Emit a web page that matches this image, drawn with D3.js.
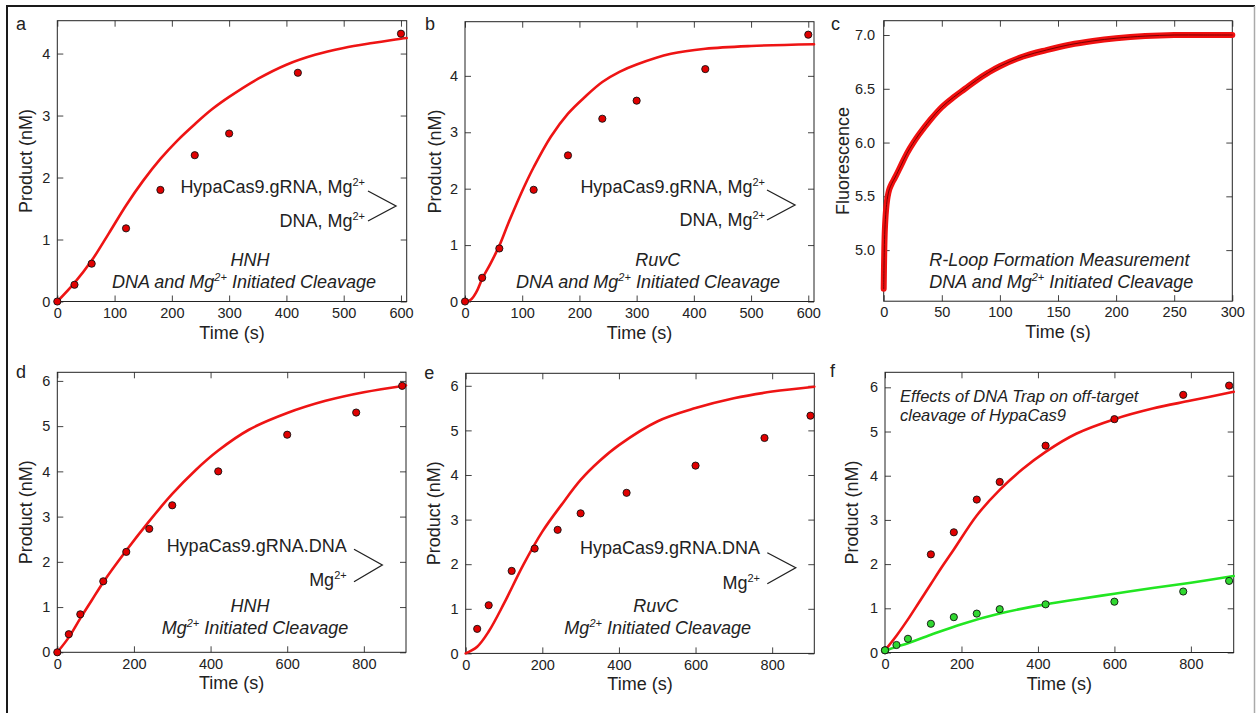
<!DOCTYPE html>
<html lang="en">
<head>
<meta charset="UTF-8">
<title>HypaCas9 cleavage kinetics</title>
<style>
  body { margin: 0; background: #fff; }
  svg { display: block; font-family: 'Liberation Sans', Arial, sans-serif; }
</style>
</head>
<body>
<svg id="svg" width="1257" height="713"></svg>
<script src="https://d3js.org/d3.v7.min.js"></script>
<script>
// ---- data ----
// a: HNH, DNA and Mg2+ initiated
const timesA = [0, 30, 60, 120, 180, 240, 300, 420, 600]
const productA = [0, 0.27, 0.61, 1.18, 1.80, 2.36, 2.71, 3.69, 4.32]
const fitTimesA = [0, 30, 60, 90, 120, 150, 180, 210, 240, 270, 300, 350, 400, 450, 500, 550, 600, 610]
const fitA = [0, 0.3, 0.66, 1.1, 1.55, 1.95, 2.3, 2.6, 2.86, 3.1, 3.3, 3.59, 3.82, 3.98, 4.09, 4.17, 4.24, 4.25]

// b: RuvC, DNA and Mg2+ initiated
const timesB = [0, 30, 60, 120, 180, 240, 300, 420, 600]
const productB = [0, 0.42, 0.94, 1.98, 2.59, 3.24, 3.56, 4.12, 4.73]
const fitTimesB = [0, 10, 20, 30, 45, 60, 75, 90, 105, 120, 150, 180, 210, 240, 270, 300, 360, 420, 500, 610]
const fitB = [0, 0.03, 0.17, 0.4, 0.68, 0.99, 1.37, 1.73, 2.07, 2.38, 2.92, 3.33, 3.63, 3.89, 4.07, 4.2, 4.39, 4.48, 4.53, 4.56]

// c: R-loop formation, fluorescence trace
const fluorTimes = [0, 0.5, 1, 2, 3, 4, 5, 7, 10, 15, 20, 25, 30, 40, 50, 60, 70, 80, 90, 100, 120, 140, 160, 180, 200, 225, 250, 275, 300]
const fluorValues = [4.64, 5.0, 5.19, 5.37, 5.47, 5.53, 5.57, 5.62, 5.68, 5.79, 5.9, 5.99, 6.07, 6.21, 6.33, 6.42, 6.5, 6.58, 6.65, 6.71, 6.8, 6.86, 6.91, 6.945, 6.97, 6.99, 7.0, 7.0, 7.0]

// d: HNH, Mg2+ initiated
const timesD = [0, 30, 60, 120, 180, 240, 300, 420, 600, 780, 900]
const productD = [0, 0.40, 0.84, 1.57, 2.22, 2.73, 3.25, 4.00, 4.81, 5.30, 5.89]
const fitTimesD = [0, 30, 60, 90, 120, 180, 240, 300, 360, 420, 500, 600, 700, 800, 910]
const fitD = [0, 0.33, 0.75, 1.15, 1.55, 2.25, 2.9, 3.5, 4.02, 4.46, 4.92, 5.29, 5.56, 5.75, 5.9]

// e: RuvC, Mg2+ initiated
const timesE = [30, 60, 120, 180, 240, 300, 420, 600, 780, 900]
const productE = [0.55, 1.08, 1.85, 2.35, 2.77, 3.14, 3.60, 4.21, 4.83, 5.33]
const fitTimesE = [0, 30, 60, 100, 150, 200, 250, 300, 350, 400, 500, 600, 700, 800, 910]
const fitE = [0, 0.15, 0.49, 1.12, 1.98, 2.73, 3.33, 3.89, 4.32, 4.67, 5.2, 5.5, 5.72, 5.87, 5.98]

// f: DNA trap, off-target cleavage
const timesF = [0, 120, 180, 240, 300, 420, 600, 780, 900]
const productFRed = [0.05, 2.22, 2.72, 3.46, 3.86, 4.68, 5.28, 5.83, 6.04]
const fitTimesFRed = [0, 30, 60, 90, 120, 150, 180, 240, 300, 360, 420, 500, 600, 700, 800, 912]
const fitFRed = [0.05, 0.38, 0.75, 1.15, 1.55, 1.95, 2.33, 3.1, 3.68, 4.15, 4.54, 4.95, 5.28, 5.52, 5.7, 5.9]
const timesFGreen = [0, 30, 60, 120, 180, 240, 300, 420, 600, 780, 900]
const productFGreen = [0.05, 0.17, 0.31, 0.65, 0.80, 0.88, 0.98, 1.09, 1.15, 1.38, 1.62]
const fitTimesFGreen = [0, 30, 60, 120, 200, 300, 400, 500, 600, 700, 800, 912]
const fitFGreen = [0.04, 0.13, 0.21, 0.4, 0.64, 0.88, 1.06, 1.2, 1.33, 1.46, 1.58, 1.73]

// tick labels
const xTicks600 = [0, 100, 200, 300, 400, 500, 600]
const xTicks300 = [0, 50, 100, 150, 200, 250, 300]
const xTicks900 = [0, 200, 400, 600, 800]
const yTicks4 = [0, 1, 2, 3, 4]
const yTicks6 = [0, 1, 2, 3, 4, 5, 6]
const yTicksFluor = [5.0, 5.5, 6.0, 6.5, 7.0]

// ---- helpers ----
const zip = (xs, ys) => xs.map((t, i) => ({ t: t, v: ys[i] }))
const RED = '#ee1414'
const GREEN = '#22e622'
const INK = '#222'

const svg = d3.select('#svg')

// outer figure border
svg.append('line').attr('x1', 6).attr('x2', 1255).attr('y1', 6).attr('y2', 6)
    .attr('stroke', '#1a1a1a').attr('stroke-width', 2)
svg.append('line').attr('x1', 7).attr('x2', 7).attr('y1', 5).attr('y2', 713)
    .attr('stroke', '#1a1a1a').attr('stroke-width', 2)
svg.append('line').attr('x1', 1254.5).attr('x2', 1254.5).attr('y1', 6).attr('y2', 713)
    .attr('stroke', '#aaa').attr('stroke-width', 1.5)

// text with superscripts: parts = [[text, isSup], ...]
function richText(sel, parts) {
    let up = false
    parts.forEach(([s, sup]) => {
        const ts = sel.append('tspan').text(s)
        if (sup && !up) { ts.attr('dy', -7).style('font-size', '11px'); up = true }
        else if (sup) { ts.style('font-size', '11px') }
        else if (up) { ts.attr('dy', 7); up = false }
    })
    return sel
}

function chevron(pts) {
    svg.append('path')
        .attr('d', d3.line()(pts))
        .attr('fill', 'none')
        .attr('stroke', INK)
        .attr('stroke-width', 1.3)
}

function drawPanel(p) {
    const g = svg.append('g')
    const x = d3.scaleLinear().domain(p.xDomain).range([p.left, p.right])
    const y = d3.scaleLinear().domain(p.yDomain).range([p.bottom, p.top])

    const styleAxis = sel => {
        sel.select('.domain').remove()
        sel.selectAll('.tick line').attr('stroke', '#444').attr('stroke-width', 1)
        sel.selectAll('.tick text').attr('fill', INK).style('font-size', '14.5px')
            .style('font-family', "'Liberation Sans', Arial, sans-serif")
    }

    g.append('g').attr('transform', `translate(0,${p.bottom})`)
        .call(d3.axisBottom(x).tickValues(p.xTicks).tickSize(-6).tickSizeOuter(0).tickPadding(6))
        .call(styleAxis)
    g.append('g').attr('transform', `translate(0,${p.top})`)
        .call(d3.axisTop(x).tickValues(p.xTicks).tickSize(-6).tickSizeOuter(0).tickFormat(''))
        .call(styleAxis)
    g.append('g').attr('transform', `translate(${p.left},0)`)
        .call(d3.axisLeft(y).tickValues(p.yTicks).tickSize(-6).tickSizeOuter(0).tickPadding(p.yPad)
            .tickFormat(p.yFormat))
        .call(styleAxis)
    g.append('g').attr('transform', `translate(${p.right},0)`)
        .call(d3.axisRight(y).tickValues(p.yTicks).tickSize(-6).tickSizeOuter(0).tickFormat(''))
        .call(styleAxis)

    // frame
    g.append('rect')
        .attr('x', p.left).attr('y', p.top)
        .attr('width', p.right - p.left).attr('height', p.bottom - p.top)
        .attr('fill', 'none').attr('stroke', INK).attr('stroke-width', 1)

    // titles
    g.append('text').text('Time (s)')
        .attr('x', (p.left + p.right) / 2).attr('y', p.bottom + 37)
        .attr('text-anchor', 'middle').style('font-size', '18px').attr('fill', INK)
    g.append('text').text(p.yTitle)
        .attr('transform', `translate(${p.left - p.yTitleOff},${(p.top + p.bottom) / 2}) rotate(-90)`)
        .attr('text-anchor', 'middle').style('font-size', '18px').attr('fill', INK)
    g.append('text').text(p.letter)
        .attr('x', p.letterPos[0]).attr('y', p.letterPos[1])
        .style('font-size', '18px').attr('fill', INK)

    // curves
    const line = d3.line().x(d => x(d.t)).y(d => y(d.v)).curve(d3.curveCatmullRom.alpha(0.5))
    ;(p.fits || []).forEach(f => {
        g.append('path').datum(f.data)
            .attr('d', line)
            .attr('fill', 'none')
            .attr('stroke', f.color)
            .attr('stroke-width', f.width || 2.6)
            .attr('stroke-linecap', 'round')
            .attr('stroke-linejoin', 'round')
    })

    // points
    ;(p.points || []).forEach(s => {
        g.selectAll(null).data(s.data).enter()
            .append('circle')
            .attr('cx', d => x(d.t))
            .attr('cy', d => y(d.v))
            .attr('r', 3.6)
            .attr('fill', s.color)
            .attr('stroke', '#111')
            .attr('stroke-width', 0.9)
    })
    return { x, y }
}

const intFmt = d3.format('d')
const panels = [
    {
        letter: 'a', letterPos: [16, 30],
        left: 57.3, right: 406.7, top: 20.7, bottom: 301.5,
        xDomain: [0, 610], yDomain: [0, 4.53], xTicks: xTicks600, yTicks: yTicks4,
        yFormat: intFmt, yPad: 7, yTitle: 'Product (nM)', yTitleOff: 25,
        fits: [{ data: zip(fitTimesA, fitA), color: RED }],
        points: [{ data: zip(timesA, productA), color: '#e00000' }]
    },
    {
        letter: 'b', letterPos: [425, 30],
        left: 465, right: 814, top: 21.7, bottom: 301.5,
        xDomain: [0, 610], yDomain: [0, 4.96], xTicks: xTicks600, yTicks: yTicks4,
        yFormat: intFmt, yPad: 7, yTitle: 'Product (nM)', yTitleOff: 24.5,
        fits: [{ data: zip(fitTimesB, fitB), color: RED }],
        points: [{ data: zip(timesB, productB), color: '#e00000' }]
    },
    {
        letter: 'c', letterPos: [831, 30],
        left: 883.7, right: 1232.3, top: 20.7, bottom: 301.2,
        xDomain: [0, 300], yDomain: [4.525, 7.133], xTicks: xTicks300, yTicks: yTicksFluor,
        yFormat: d3.format('.1f'), yPad: 8.5, yTitle: 'Fluorescence', yTitleOff: 35,
        fits: [
            { data: zip(fluorTimes, fluorValues), color: '#f01010', width: 6 },
            { data: zip(fluorTimes, fluorValues), color: '#7a0000', width: 1 }
        ]
    },
    {
        letter: 'd', letterPos: [16, 377.7],
        left: 57.3, right: 406, top: 372.3, bottom: 652.3,
        xDomain: [0, 910], yDomain: [0, 6.19], xTicks: xTicks900, yTicks: yTicks6,
        yFormat: intFmt, yPad: 7, yTitle: 'Product (nM)', yTitleOff: 25,
        fits: [{ data: zip(fitTimesD, fitD), color: RED }],
        points: [{ data: zip(timesD, productD), color: '#e00000' }]
    },
    {
        letter: 'e', letterPos: [424.3, 379],
        left: 465.7, right: 814.3, top: 373.3, bottom: 653.4,
        xDomain: [0, 910], yDomain: [0, 6.28], xTicks: xTicks900, yTicks: yTicks6,
        yFormat: intFmt, yPad: 7, yTitle: 'Product (nM)', yTitleOff: 25.5,
        fits: [{ data: zip(fitTimesE, fitE), color: RED }],
        points: [{ data: zip(timesE, productE), color: '#e00000' }]
    },
    {
        letter: 'f', letterPos: [830, 377],
        left: 885, right: 1233.7, top: 372.3, bottom: 652.5,
        xDomain: [0, 912], yDomain: [0, 6.34], xTicks: xTicks900, yTicks: yTicks6,
        yFormat: intFmt, yPad: 7, yTitle: 'Product (nM)', yTitleOff: 26.7,
        fits: [
            { data: zip(fitTimesFRed, fitFRed), color: RED },
            { data: zip(fitTimesFGreen, fitFGreen), color: GREEN }
        ],
        points: [
            { data: zip(timesF, productFRed), color: '#e00000' },
            { data: zip(timesFGreen, productFGreen), color: '#30d830' }
        ]
    }
]

panels.forEach(drawPanel)

// ---- annotations ----
const note = (x, y, anchor, italic, parts, size) => {
    const t = svg.append('text')
        .attr('x', x).attr('y', y)
        .attr('text-anchor', anchor)
        .style('font-size', (size || 18) + 'px')
        .style('font-style', italic ? 'italic' : 'normal')
        .attr('fill', INK)
    return richText(t, parts)
}

// a
note(365, 192.5, 'end', false, [['HypaCas9.gRNA, Mg'], ['2+', true]])
note(365, 226.5, 'end', false, [['DNA, Mg'], ['2+', true]])
chevron([[368, 191], [396, 206], [368, 221]])
note(250, 265.5, 'middle', true, [['HNH']])
note(244, 287.5, 'middle', true, [['DNA and Mg'], ['2+', true], [' Initiated Cleavage']])

// b
note(765, 192.5, 'end', false, [['HypaCas9.gRNA, Mg'], ['2+', true]])
note(765, 226, 'end', false, [['DNA, Mg'], ['2+', true]])
chevron([[767, 190], [795, 205], [767, 220]])
note(657.7, 265.5, 'middle', true, [['RuvC']])
note(648, 287.5, 'middle', true, [['DNA and Mg'], ['2+', true], [' Initiated Cleavage']])

// c
note(929.3, 265.5, 'start', true, [['R-Loop Formation Measurement']])
note(929.3, 287.5, 'start', true, [['DNA and Mg'], ['2+', true], [' Initiated Cleavage']])

// d
note(346.7, 551.7, 'end', false, [['HypaCas9.gRNA.DNA']])
note(346.7, 585.7, 'end', false, [['Mg'], ['2+', true]])
chevron([[354, 549.3], [382.3, 565], [354, 581.7]])
note(250, 612.3, 'middle', true, [['HNH']])
note(255, 634.3, 'middle', true, [['Mg'], ['2+', true], [' Initiated Cleavage']])

// e
note(760, 554.3, 'end', false, [['HypaCas9.gRNA.DNA']])
note(760, 589, 'end', false, [['Mg'], ['2+', true]])
chevron([[767.3, 552.7], [795.7, 567.7], [767.3, 583.7]])
note(655.7, 612.3, 'middle', true, [['RuvC']])
note(657.7, 634.3, 'middle', true, [['Mg'], ['2+', true], [' Initiated Cleavage']])

// f
note(900, 401.7, 'start', true, [['Effects of DNA Trap on off-target']], 16.5)
note(900, 421, 'start', true, [['cleavage of HypaCas9']], 16.5)
</script>
</body>
</html>
